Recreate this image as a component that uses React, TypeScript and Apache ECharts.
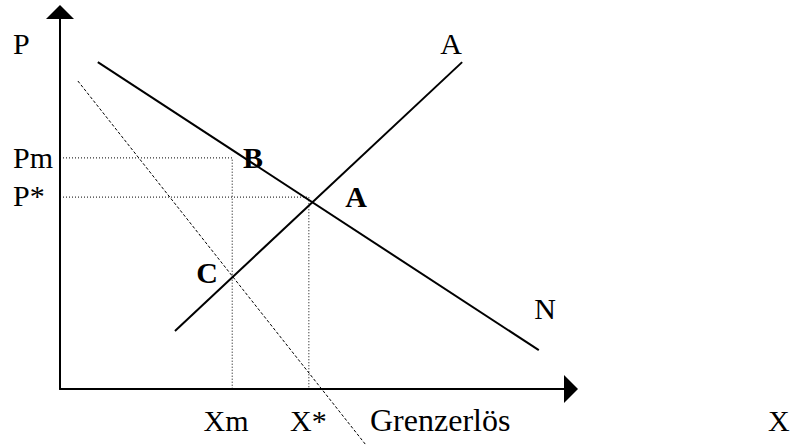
import React, { useEffect, useRef } from "react";
import * as echarts from "echarts";

// Curves (quantity X, price P) in abstract units
const demandN: number[][] = [[0.74, 8.67], [9.37, 1.03]];
const supplyA: number[][] = [[2.25, 1.54], [7.87, 8.67]];
const grenzerloes: number[][] = [[0.35, 8.17], [5.99, -1.49]];

// Equilibrium / monopoly values
const Pm = 6.13;
const Pstar = 5.09;
const Xm = 3.37;
const Xstar = 4.87;

const axisLabels = { p: "P", x: "X", pm: "Pm", pstar: "P*", xm: "Xm", xstar: "X*" };
const curveLabels = { supply: "A", demand: "N", mr: "Grenzerlös" };
const pointLabels = { b: "B", a: "A", c: "C" };

const FONT = "'Liberation Serif', 'Times New Roman', serif";
const FS = 30;

export default function App() {
  const ref = useRef<HTMLDivElement>(null);
  useEffect(() => {
    if (!ref.current) return;
    const chart = echarts.init(ref.current, undefined, { renderer: "svg" });
    const solid = { color: "#000", width: 2, type: "solid" as const };
    const guide = { color: "#000", width: 1, type: [1, 2] as any };
    const mk = (data: number[][], ls: any) => ({
      type: "line" as const,
      data,
      showSymbol: false,
      symbol: "none",
      clip: false,
      silent: true,
      lineStyle: ls,
    });
    const txt = (text: string, x: number, y: number, align: string, bold = false, size = FS) => ({
      type: "text" as const,
      x,
      y,
      silent: true,
      style: {
        text,
        fill: "#000",
        font: `${bold ? "bold " : ""}${size}px ${FONT}`,
        textAlign: align,
        textVerticalAlign: "middle",
      },
    });
    chart.setOption({
      animation: false,
      backgroundColor: "#fff",
      grid: { left: 60, right: 224, top: 12, bottom: 56, containLabel: false },
      xAxis: {
        type: "value",
        min: 0,
        max: 10,
        axisLine: { show: true, symbol: ["none", "triangle"], symbolSize: [28, 14], lineStyle: { color: "#000", width: 2 } },
        axisTick: { show: false },
        axisLabel: { show: false },
        splitLine: { show: false },
      },
      yAxis: {
        type: "value",
        min: 0,
        max: 10,
        axisLine: { show: true, symbol: ["none", "triangle"], symbolSize: [28, 14], lineStyle: { color: "#000", width: 2 } },
        axisTick: { show: false },
        axisLabel: { show: false },
        splitLine: { show: false },
      },
      series: [
        mk([[0, Pm], [Xm, Pm], [Xm, 0]], guide),
        mk([[0, Pstar], [Xstar, Pstar], [Xstar, 0]], guide),
        mk(grenzerloes, { color: "#000", width: 1, type: [3, 2] }),
        mk(demandN, solid),
        mk(supplyA, solid),
      ],
      graphic: [
        txt(axisLabels.p, 13, 43, "left"),
        txt(axisLabels.pm, 13, 157, "left"),
        txt(axisLabels.pstar, 13, 195, "left"),
        txt(axisLabels.xm, 226, 420, "center"),
        txt(axisLabels.xstar, 290, 420, "left"),
        txt(curveLabels.mr, 370, 420, "left", false, 32),
        txt(axisLabels.x, 768, 420, "left"),
        txt(curveLabels.supply, 451, 43, "center"),
        txt(curveLabels.demand, 545, 308, "center"),
        txt(pointLabels.b, 253, 157, "center", true),
        txt(pointLabels.a, 356, 196, "center", true),
        txt(pointLabels.c, 207, 272, "center", true),
      ],
    });
    return () => chart.dispose();
  }, []);
  return (
    <div
      ref={ref}
      style={{ position: "fixed", left: 0, top: 0, width: 795, height: 445, background: "#fff" }}
    />
  );
}
